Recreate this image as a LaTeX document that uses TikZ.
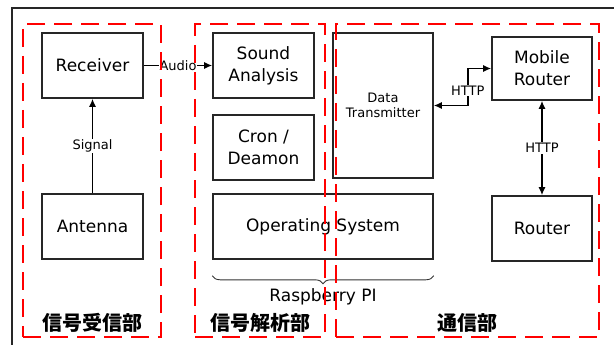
\documentclass[tikz,border=0pt]{standalone}
\usepackage{fontspec}
\setmainfont{DejaVu Sans}
\newfontfamily\jpfont{Noto Sans CJK JP}
\usepackage{xcolor}
\usepackage{tikz}
\usetikzlibrary{positioning, arrows.meta, calc, decorations.pathreplacing}

\begin{document}
\begin{tikzpicture}[
    x=1pt, y=-1pt,
    % ---- Block style ----
    block/.style={
        draw=black!85,
        line width=1.6pt,
        fill=white,
        align=center,
        inner sep=0pt,
        font=\fontsize{17}{22}\selectfont
    },
    % ---- Group (dashed red) style ----
    group/.style={
        draw=red,
        line width=2.2pt,
        dash pattern=on 18pt off 9pt,
        inner sep=0pt
    },
    grplabel/.style={font=\jpfont\bfseries\fontsize{20}{24}\selectfont, inner sep=0pt},
    % ---- Connector style ----
    link/.style={line width=1.4pt, black, -{Latex[length=8pt,width=7pt]}},
    biglink/.style={line width=1.4pt, black, {Latex[length=8pt,width=7pt]}-{Latex[length=8pt,width=7pt]}},
    lbl/.style={font=\fontsize{13}{15}\selectfont, fill=white, inner sep=1pt}
]
\useasboundingbox (0,0) rectangle (614,345);

% ---- Outer frame ----
\draw[line width=1.3pt, black!85] (12,345) -- (12,8) -- (614,8);

% ---------- Signal reception ----------
\node[block, minimum width=101, minimum height=65] (Rcv) at (92.5, 65.5) {Receiver};
\node[block, minimum width=101, minimum height=65] (Ant) at (92.5, 226.5) {Antenna};

% ---------- Raspberry PI ----------
\node[block, minimum width=101, minimum height=65] (Snd) at (263.5, 65.5) {Sound\\Analysis};
\node[block, minimum width=101, minimum height=65] (Cron) at (263.5, 147.5) {Cron /\\Deamon};
\node[block, minimum width=220, minimum height=65] (OS) at (323, 226.5) {Operating System};
\node[block, minimum width=100, minimum height=145, font=\fontsize{13}{15}\selectfont]
    (Dtx) at (383, 105.5) {Data\\Transmitter};

% ---------- Network ----------
\node[block, minimum width=100, minimum height=63] (Mob) at (542, 68.5) {Mobile\\Router};
\node[block, minimum width=100, minimum height=65] (Rtr) at (542, 228.5) {Router};

% ============================================================
%  CONNECTIONS
% ============================================================

% Antenna -> Receiver
\draw[link] (Ant.north) -- (Rcv.south)
    node[lbl, midway]{Signal};

% Receiver -> Sound Analysis
\draw[link] (Rcv.east) -- (Snd.west)
    node[lbl, midway]{Audio};

% Data Transmitter <-> Mobile Router
\draw[biglink] (Dtx.east) -- ++(34,0) |- (Mob.west)
    node[lbl, pos=0.2]{HTTP};

% Mobile Router <-> Router
\draw[biglink] (Mob.south) -- (Rtr.north)
    node[lbl, midway]{HTTP};

% Raspberry PI brace
\draw[line width=0.9pt, black!80, decorate, decoration={brace, amplitude=8pt}]
    ($(OS.south east)+(0,16)$) -- ($(OS.south west)+(0,16)$);
\node[font=\fontsize{17}{20}\selectfont, inner sep=0pt, below=29pt of OS] (RPi) {Raspberry PI};

% ---------- Groups ----------
\node[group, minimum width=138, minimum height=313] (GRecv) at (92, 180.5) {};
\node[group, minimum width=130, minimum height=313] (GAnal) at (260, 180.5) {};
\node[group, minimum width=263, minimum height=313] (GComm) at (467.5, 180.5) {};

\node[grplabel, above=5pt of GRecv.south] (LRecv) {信号受信部};
\node[grplabel, above=5pt of GAnal.south] (LAnal) {信号解析部};
\node[grplabel, above=5pt of GComm.south] (LComm) {通信部};

\end{tikzpicture}
\end{document}
